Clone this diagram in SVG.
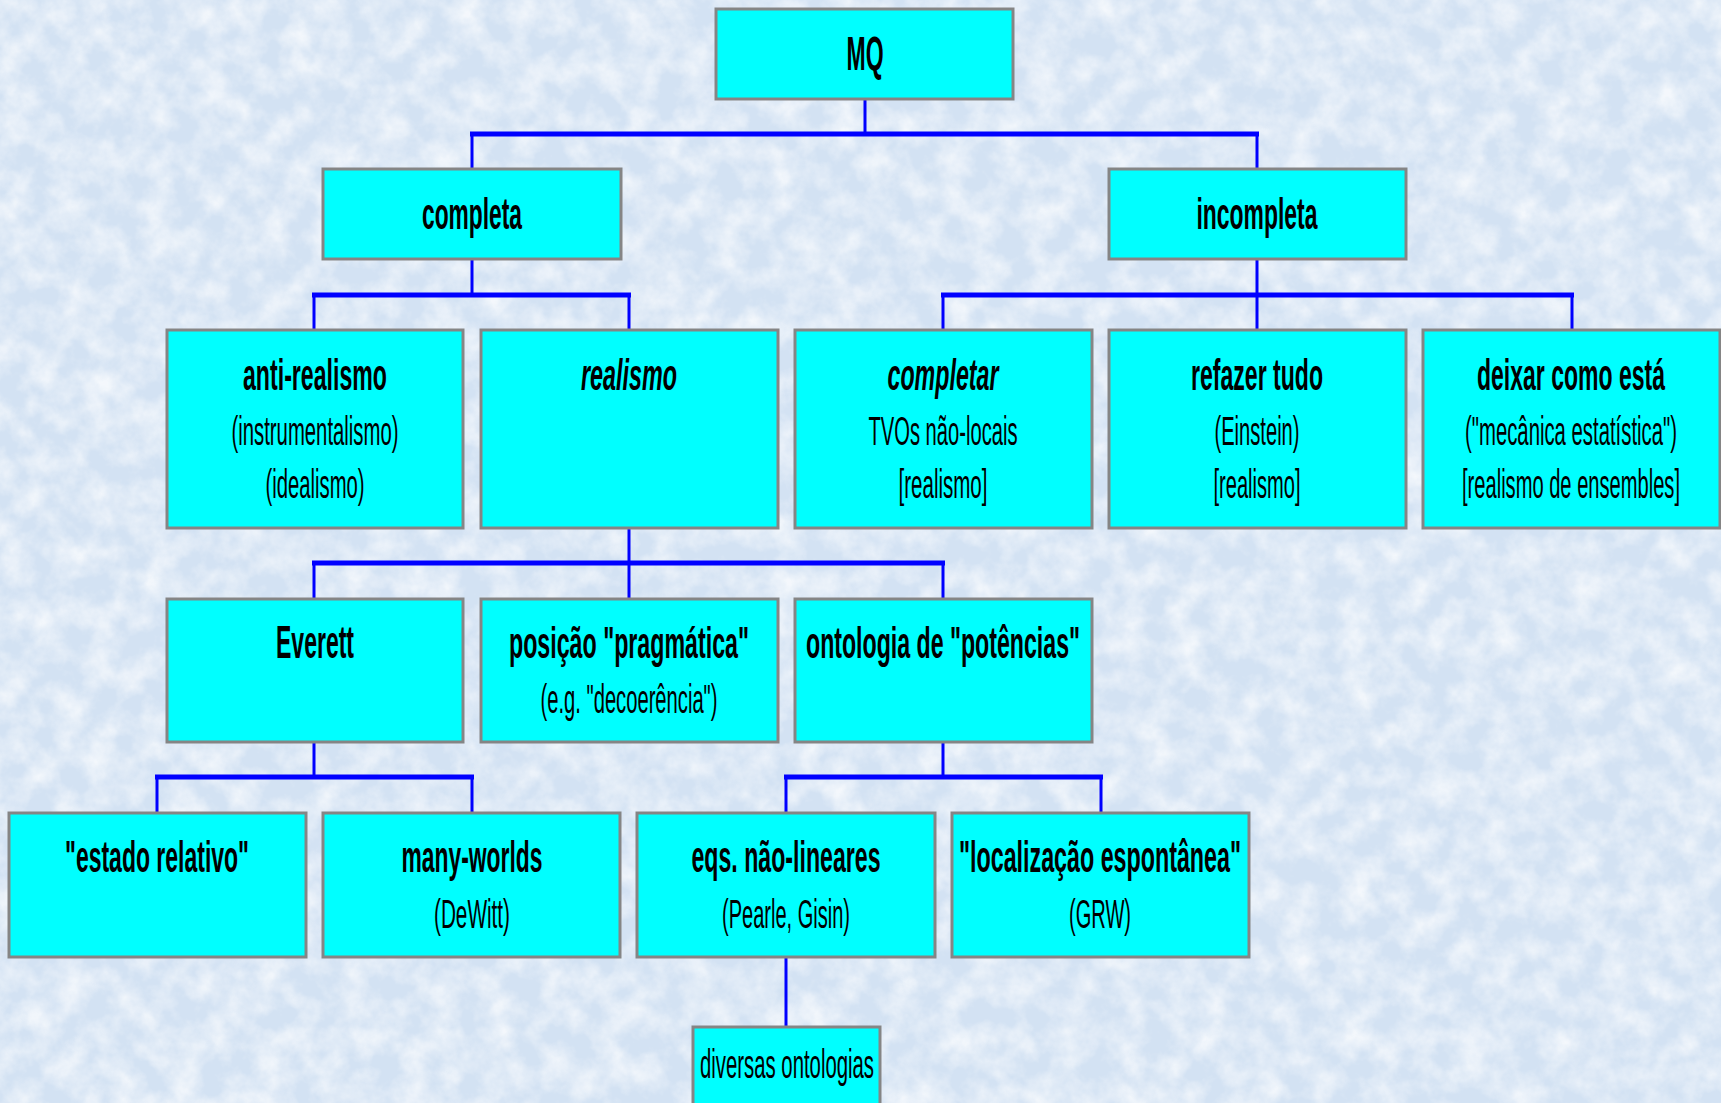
<svg xmlns="http://www.w3.org/2000/svg" width="1721" height="1103" viewBox="0 0 1721 1103">
<style>
.box{fill:#00ffff;stroke:#858585;stroke-width:3}
.stem{stroke:#0000ff;stroke-width:3;fill:none}
.bus{stroke:#0000ff;stroke-width:5;fill:none}
text{font-family:"Liberation Sans",Arial,sans-serif;fill:#000;text-anchor:middle}
.b{font-weight:bold;font-size:44px}
.bi{font-weight:bold;font-style:italic;font-size:44px}
.r{font-weight:normal;font-size:41px}
</style>
<defs>
<filter id="tex" x="0" y="0" width="100%" height="100%">
<feTurbulence type="fractalNoise" baseFrequency="0.035" numOctaves="4" seed="7"/>
<feColorMatrix type="matrix" values="0 0 0 0 1  0 0 0 0 1  0 0 0 0 1  1.8 0 0 0 -0.6"/>
</filter>
</defs>
<rect x="0" y="0" width="1721" height="1103" fill="#d3e2f3"/>
<rect x="0" y="0" width="1721" height="1103" filter="url(#tex)" opacity="0.75"/>

<g id="connectors">
<line class="stem" x1="865" y1="99" x2="865" y2="134"/>
<line class="bus" x1="470" y1="134" x2="1259" y2="134"/>
<line class="stem" x1="472" y1="134" x2="472" y2="169"/>
<line class="stem" x1="1257" y1="134" x2="1257" y2="169"/>

<line class="stem" x1="472" y1="259" x2="472" y2="295"/>
<line class="bus" x1="312" y1="295" x2="631" y2="295"/>
<line class="stem" x1="314" y1="295" x2="314" y2="330"/>
<line class="stem" x1="629" y1="295" x2="629" y2="330"/>

<line class="stem" x1="1257" y1="259" x2="1257" y2="330"/>
<line class="bus" x1="941" y1="295" x2="1574" y2="295"/>
<line class="stem" x1="943" y1="295" x2="943" y2="330"/>
<line class="stem" x1="1572" y1="295" x2="1572" y2="330"/>

<line class="stem" x1="629" y1="528" x2="629" y2="599"/>
<line class="bus" x1="312" y1="563" x2="945" y2="563"/>
<line class="stem" x1="314" y1="563" x2="314" y2="599"/>
<line class="stem" x1="943" y1="563" x2="943" y2="599"/>

<line class="stem" x1="314" y1="742" x2="314" y2="777"/>
<line class="bus" x1="155" y1="777" x2="474" y2="777"/>
<line class="stem" x1="157" y1="777" x2="157" y2="813"/>
<line class="stem" x1="472" y1="777" x2="472" y2="813"/>

<line class="stem" x1="943" y1="742" x2="943" y2="777"/>
<line class="bus" x1="784" y1="777" x2="1103" y2="777"/>
<line class="stem" x1="786" y1="777" x2="786" y2="813"/>
<line class="stem" x1="1101" y1="777" x2="1101" y2="813"/>

<line class="stem" x1="786" y1="957" x2="786" y2="1027"/>
</g>

<g id="mq"><rect class="box" x="716" y="9" width="297" height="90"/>
<text class="b" style="font-size:49px" x="865" y="70" textLength="37" lengthAdjust="spacingAndGlyphs">MQ</text></g>

<g id="completa"><rect class="box" x="323" y="169" width="298" height="90"/>
<text class="b" x="472" y="229" textLength="100" lengthAdjust="spacingAndGlyphs">completa</text></g>

<g id="incompleta"><rect class="box" x="1109" y="169" width="297" height="90"/>
<text class="b" x="1257" y="229" textLength="121" lengthAdjust="spacingAndGlyphs">incompleta</text></g>

<g id="anti-realismo"><rect class="box" x="167" y="330" width="296" height="198"/>
<text class="b" x="315" y="390" textLength="144" lengthAdjust="spacingAndGlyphs">anti-realismo</text>
<text class="r" x="315" y="445" textLength="167" lengthAdjust="spacingAndGlyphs">(instrumentalismo)</text>
<text class="r" x="315" y="498" textLength="99" lengthAdjust="spacingAndGlyphs">(idealismo)</text></g>

<g id="realismo"><rect class="box" x="481" y="330" width="297" height="198"/>
<text class="bi" x="629" y="390" textLength="96" lengthAdjust="spacingAndGlyphs">realismo</text></g>

<g id="completar"><rect class="box" x="795" y="330" width="297" height="198"/>
<text class="bi" x="943" y="390" textLength="111" lengthAdjust="spacingAndGlyphs">completar</text>
<text class="r" x="943" y="445" textLength="149" lengthAdjust="spacingAndGlyphs">TVOs não-locais</text>
<text class="r" x="943" y="498" textLength="89" lengthAdjust="spacingAndGlyphs">[realismo]</text></g>

<g id="refazer"><rect class="box" x="1109" y="330" width="297" height="198"/>
<text class="b" x="1257" y="390" textLength="132" lengthAdjust="spacingAndGlyphs">refazer tudo</text>
<text class="r" x="1257" y="445" textLength="85" lengthAdjust="spacingAndGlyphs">(Einstein)</text>
<text class="r" x="1257" y="498" textLength="87" lengthAdjust="spacingAndGlyphs">[realismo]</text></g>

<g id="deixar"><rect class="box" x="1423" y="330" width="297" height="198"/>
<text class="b" x="1571" y="390" textLength="188" lengthAdjust="spacingAndGlyphs">deixar como está</text>
<text class="r" x="1571" y="445" textLength="212" lengthAdjust="spacingAndGlyphs">("mecânica estatística")</text>
<text class="r" x="1571" y="498" textLength="218" lengthAdjust="spacingAndGlyphs">[realismo de ensembles]</text></g>

<g id="everett"><rect class="box" x="167" y="599" width="296" height="143"/>
<text class="b" style="font-size:46px" x="315" y="658" textLength="78" lengthAdjust="spacingAndGlyphs">Everett</text></g>

<g id="pragmatica"><rect class="box" x="481" y="599" width="297" height="143"/>
<text class="b" x="629" y="658" textLength="240" lengthAdjust="spacingAndGlyphs">posição "pragmática"</text>
<text class="r" x="629" y="713" textLength="177" lengthAdjust="spacingAndGlyphs">(e.g. "decoerência")</text></g>

<g id="potencias"><rect class="box" x="795" y="599" width="297" height="143"/>
<text class="b" x="943" y="658" textLength="274" lengthAdjust="spacingAndGlyphs">ontologia de "potências"</text></g>

<g id="estado-relativo"><rect class="box" x="9" y="813" width="297" height="144"/>
<text class="b" x="157" y="872" textLength="184" lengthAdjust="spacingAndGlyphs">"estado relativo"</text></g>

<g id="many-worlds"><rect class="box" x="323" y="813" width="297" height="144"/>
<text class="b" x="472" y="872" textLength="141" lengthAdjust="spacingAndGlyphs">many-worlds</text>
<text class="r" x="472" y="928" textLength="76" lengthAdjust="spacingAndGlyphs">(DeWitt)</text></g>

<g id="nao-lineares"><rect class="box" x="637" y="813" width="298" height="144"/>
<text class="b" x="786" y="872" textLength="189" lengthAdjust="spacingAndGlyphs">eqs. não-lineares</text>
<text class="r" x="786" y="928" textLength="128" lengthAdjust="spacingAndGlyphs">(Pearle, Gisin)</text></g>

<g id="localizacao"><rect class="box" x="952" y="813" width="297" height="144"/>
<text class="b" x="1100" y="872" textLength="282" lengthAdjust="spacingAndGlyphs">"localização espontânea"</text>
<text class="r" x="1100" y="928" textLength="62" lengthAdjust="spacingAndGlyphs">(GRW)</text></g>

<g id="diversas"><rect class="box" x="693" y="1027" width="187" height="100"/>
<text class="r" x="787" y="1078" textLength="174" lengthAdjust="spacingAndGlyphs">diversas ontologias</text></g>
</svg>
